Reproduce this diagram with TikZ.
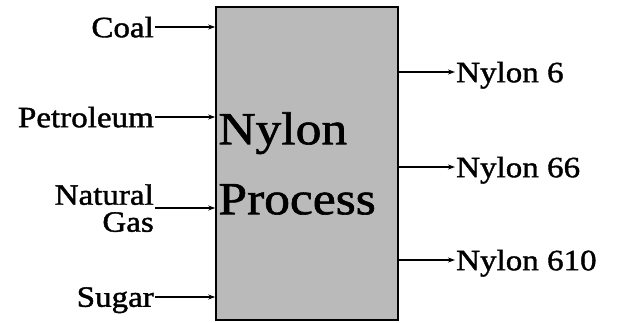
\documentclass[tikz,border=0pt]{standalone}
\usepackage{fontspec}
\setmainfont{Liberation Serif}[FakeStretch=1.12,FakeBold=1.4]
\usetikzlibrary{arrows.meta,positioning}

\begin{document}
\begin{tikzpicture}[
    x=1pt, y=-1pt,
    >={Stealth[length=7pt,width=5pt]},
    every node/.style={font=\fontsize{29.5}{27}\selectfont},
    proc/.style={
        rectangle,
        draw=black,
        line width=1.6pt,
        fill=black!27,
        minimum width=182pt,
        minimum height=313pt,
        inner sep=0pt
    },
    title/.style={
        anchor=west,
        align=left,
        inner sep=0pt,
        font=\fontsize{46}{70}\selectfont
    },
    src/.style={
        anchor=east,
        align=right,
        inner sep=1pt,
        text depth=0pt
    },
    prod/.style={
        anchor=west,
        inner sep=1pt,
        text depth=0pt
    },
    feed/.style={->, line width=1.2pt}
]
\useasboundingbox (0,0) rectangle (619,323);

% ==================== Process box ====================
\node[proc] (proc) at (307,163.5) {};
\node[title] (name) at ([xshift=3pt]proc.west) {Nylon\\Process};

% ==================== Raw materials (left) ====================
\node[src] (coal)   at (155,27)  {Coal};
\node[src] (petrol) at (155,117) {Petroleum};
\node[src] (natgas) at (155,208) {Natural\\Gas};
\node[src] (sugar)  at (155,297) {Sugar};

\foreach \n in {coal,petrol,natgas,sugar} {
  \draw[feed] (\n.east) -- (\n.east -| proc.west);
}

% ==================== Products (right) ====================
\node[prod] (ny6)   at (455,72)  {Nylon 6};
\node[prod] (ny66)  at (455,167) {Nylon 66};
\node[prod] (ny610) at (455,260) {Nylon 610};

\foreach \n in {ny6,ny66,ny610} {
  \draw[feed] (\n.west -| proc.east) -- (\n.west);
}

\end{tikzpicture}
\end{document}
